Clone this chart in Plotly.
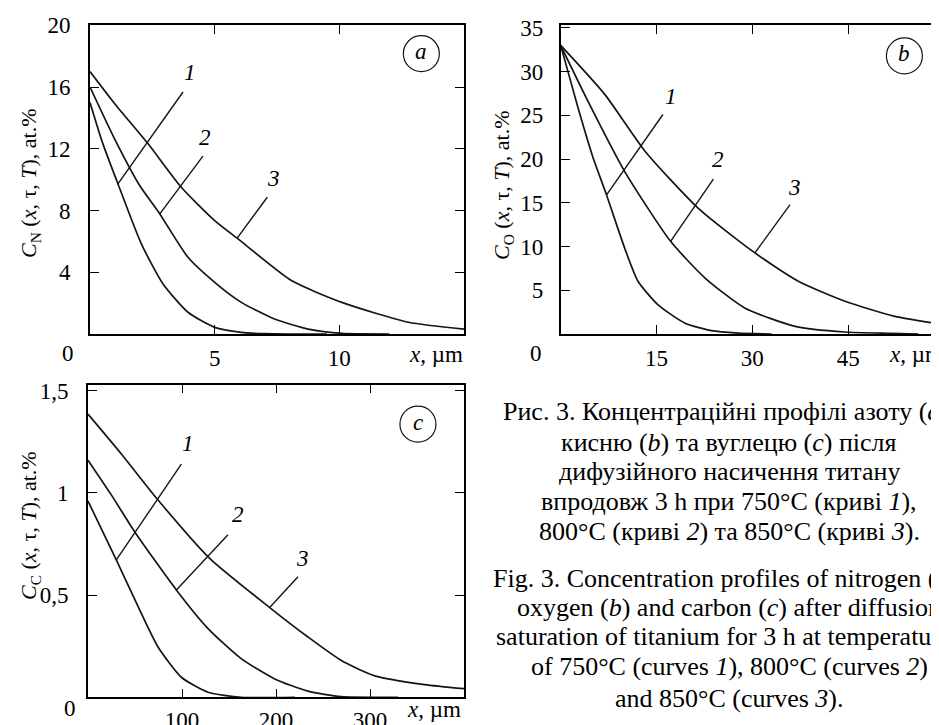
import plotly.graph_objects as go

W, H = 939, 725
SERIF = "Liberation Serif"

# ---------------- data ----------------
# (a) nitrogen, x in um, C in at.%
a_x1 = [0, 0.5, 1.12, 2.06, 2.93, 3.93, 5.0, 6.07, 7.0, 8.0, 9.5]
a_y1 = [15.0, 12.4, 9.73, 5.84, 3.24, 1.41, 0.43, 0.11, 0.02, 0.0, 0.0]
a_x2 = [0, 1.0, 2.0, 2.8, 3.93, 5.0, 6.07, 7.4, 8.75, 10.1, 12.0]
a_y2 = [16.0, 12.6, 9.6, 7.78, 4.97, 3.35, 2.05, 0.97, 0.32, 0.04, 0.0]
a_x3 = [0, 1.0, 2.33, 3.66, 5.0, 5.94, 8.08, 10.1, 12.77, 15.0]
a_y3 = [17.0, 14.9, 12.32, 9.51, 7.35, 6.16, 3.46, 2.05, 0.76, 0.32]

# (b) oxygen
b_x1 = [0, 2.7, 5.07, 7.15, 10.0, 12.1, 15.2, 19.4, 23.6, 27.8, 33.0]
b_y1 = [33.0, 25.9, 20.15, 15.95, 9.85, 6.03, 3.36, 1.26, 0.38, 0.11, 0.0]
b_x2 = [0, 4.28, 10.0, 17.2, 22.6, 28.8, 36.7, 44.5, 51.8, 56.0]
b_y2 = [33.0, 26.6, 18.6, 10.6, 6.4, 2.98, 0.88, 0.23, 0.08, 0.0]
b_x3 = [0, 6.9, 13.2, 21.5, 30.4, 37.2, 44.5, 52.3, 60.0]
b_y3 = [33.0, 27.4, 20.9, 14.4, 9.27, 6.03, 3.74, 2.02, 1.07]

# (c) carbon
c_x1 = [0, 30.1, 56.7, 74.5, 99.3, 127.7, 163.0, 220.0]
c_y1 = [0.96, 0.672, 0.41, 0.246, 0.098, 0.025, 0.0, 0.0]
c_x2 = [0, 24.8, 49.6, 94.0, 127.7, 163.0, 198.6, 234.0, 269.5, 330.0]
c_y2 = [1.16, 0.99, 0.81, 0.525, 0.336, 0.189, 0.09, 0.03, 0.003, 0.0]
c_x3 = [0, 35.5, 72.7, 129.4, 193.3, 234.0, 269.5, 305.0, 358.0, 400.0]
c_y3 = [1.385, 1.19, 0.975, 0.68, 0.439, 0.295, 0.18, 0.105, 0.062, 0.042]

# tick labels
a_xticks = [5, 10]
a_yticks = [4, 8, 12, 16, 20]
b_xticks = [15, 30, 45]
b_yticks = [5, 10, 15, 20, 25, 30, 35]
c_xticks = [100, 200, 300]
c_yticks = [0.5, 1.0, 1.5]
c_yticktext = ["0,5", "1", "1,5"]

# leader lines (x0, y0, x1, y1) and curve numbers (x, y) per panel
a_leaders = [(1.12, 9.73, 3.73, 15.68), (2.8, 7.78, 4.53, 11.52), (5.91, 6.23, 7.11, 8.86)]
a_nums = [(4.0, 16.97), (4.6, 12.76), (7.34, 10.05)]
b_leaders = [(7.15, 15.88, 16.0, 25.1), (17.2, 10.6, 23.9, 17.7), (30.4, 9.27, 35.9, 14.8)]
b_nums = [(17.2, 27.2), (24.6, 19.96), (36.6, 16.7)]
c_leaders = [(30.1, 0.672, 99.3, 1.14), (94.0, 0.525, 148.9, 0.795), (193.3, 0.439, 223.4, 0.59)]
c_nums = [(106.4, 1.24), (159.6, 0.893), (228.7, 0.68)]
circ = {"a": (13.29, 18.16), "b": (53.8, 31.8), "c": (351.0, 1.336)}

caption_ua = [
    "Рис. 3. Концентраційні профілі азоту (<i>a</i>),",
    "кисню (<i>b</i>) та вуглецю (<i>c</i>) після",
    "дифузійного насичення титану",
    "впродовж 3 h при 750°C (криві <i>1</i>),",
    "800°C (криві <i>2</i>) та 850°C (криві <i>3</i>).",
]
caption_en = [
    "Fig. 3. Concentration profiles of nitrogen (<i>a</i>),",
    "oxygen (<i>b</i>) and carbon (<i>c</i>) after diffusion",
    "saturation of titanium for 3 h at temperatures",
    "of 750°C (curves <i>1</i>), 800°C (curves <i>2</i>)",
    "and 850°C (curves <i>3</i>).",
]

# ---------------- layout geometry (pixels) ----------------
def px_x(x):
    return x / W

def px_y(y):
    return 1 - y / H

panels = {
    "a": dict(x0=82, x1=456, y0=17.3, y1=326),
    "b": dict(x0=552.7, x1=936, y0=17.3, y1=326),
    "c": dict(x0=80, x1=456, y0=376.5, y1=689.3),
}

fig = go.Figure()
LC = "#151515"
LW = 1.7

def add_curves(xs, ys, xa, ya):
    for x, y in zip(xs, ys):
        fig.add_trace(go.Scatter(x=x, y=y, mode="lines", xaxis=xa, yaxis=ya,
                                 line=dict(color=LC, width=LW, shape="spline", smoothing=0.6),
                                 showlegend=False, hoverinfo="skip"))

add_curves([a_x1, a_x2, a_x3], [a_y1, a_y2, a_y3], "x", "y")
add_curves([b_x1, b_x2, b_x3], [b_y1, b_y2, b_y3], "x2", "y2")
add_curves([c_x1, c_x2, c_x3], [c_y1, c_y2, c_y3], "x3", "y3")

def axis(dom, rng, tickvals, ticktext=None, anchor=None, standoff=3):
    d = dict(domain=dom, range=rng, tickvals=tickvals, showline=True, linecolor="black",
             linewidth=1.6, mirror="allticks", ticks="inside", ticklen=9, tickwidth=1.4,
             tickcolor="black", showgrid=False, zeroline=False, anchor=anchor,
             automargin=False, fixedrange=True,
             tickfont=dict(family=SERIF, size=23, color="black"), ticklabelstandoff=standoff)
    if ticktext is not None:
        d["ticktext"] = ticktext
    return d

pa, pb, pc = panels["a"], panels["b"], panels["c"]
layout = dict(
    width=W, height=H, margin=dict(l=0, r=0, t=0, b=0, autoexpand=False),
    paper_bgcolor="white", plot_bgcolor="white", showlegend=False,
    xaxis=axis([px_x(pa["x0"]), px_x(pa["x1"])], [0, 15], a_xticks, anchor="y"),
    yaxis=axis([px_y(pa["y1"]), px_y(pa["y0"])], [0, 20], a_yticks, anchor="x", standoff=13),
    xaxis2=axis([px_x(pb["x0"]), px_x(pb["x1"])], [0, 60], b_xticks, anchor="y2"),
    yaxis2=axis([px_y(pb["y1"]), px_y(pb["y0"])], [0, 35.3], b_yticks, anchor="x2", standoff=11),
    xaxis3=axis([px_x(pc["x0"]), px_x(pc["x1"])], [0, 400], c_xticks, anchor="y3", standoff=1),
    yaxis3=axis([px_y(pc["y1"]), px_y(pc["y0"])], [0, 1.53], c_yticks, c_yticktext,
                anchor="x3", standoff=13),
)
fig.update_layout(**layout)

shapes = []
ann = []
for (leaders, nums, xr, yr) in [(a_leaders, a_nums, "x", "y"),
                                (b_leaders, b_nums, "x2", "y2"),
                                (c_leaders, c_nums, "x3", "y3")]:
    for (x0, y0, x1, y1) in leaders:
        shapes.append(dict(type="line", xref=xr, yref=yr, x0=x0, y0=y0, x1=x1, y1=y1,
                           line=dict(color=LC, width=1.4)))
    for i, (x, y) in enumerate(nums):
        ann.append(dict(xref=xr, yref=yr, x=x, y=y, text=f"<i>{i+1}</i>", showarrow=False,
                        xanchor="center", yanchor="middle",
                        font=dict(family=SERIF, size=23, color="black")))

for key, (xr, yr) in zip(["a", "b", "c"], [("x", "y"), ("x2", "y2"), ("x3", "y3")]):
    cx, cy = circ[key]
    shapes.append(dict(type="circle", xref=xr, yref=yr, xsizemode="pixel", ysizemode="pixel",
                       xanchor=cx, yanchor=cy, x0=-18, x1=18, y0=-18, y1=18,
                       line=dict(color=LC, width=1.2)))
    ann.append(dict(xref=xr, yref=yr, x=cx, y=cy, text=f"<i>{key}</i>", showarrow=False,
                    xanchor="center", yanchor="middle",
                    font=dict(family=SERIF, size=23, color="black"), yshift=2))

# corner zeros, x-axis unit labels, y-axis titles
for (zx, zy) in [(60, 345), (528.3, 345), (61.7, 700)]:
    ann.append(dict(xref="paper", yref="paper", x=px_x(zx), y=px_y(zy), text="0",
                    xanchor="center", yanchor="middle",
                    showarrow=False, font=dict(family=SERIF, size=23, color="black")))
for (ux, uy) in [(457, 347), (937, 347), (455, 701)]:
    ann.append(dict(xref="paper", yref="paper", x=px_x(ux), y=px_y(uy), xanchor="right",
                    yanchor="middle", text="<i>x</i>, µm", showarrow=False,
                    font=dict(family=SERIF, size=23, color="black")))
titles = [("N", 22, 175), ("O", 495, 177), ("C", 22, 518)]
for sub, tx, ty in titles:
    ann.append(dict(xref="paper", yref="paper", x=px_x(tx), y=px_y(ty), textangle=-90,
                    xanchor="center", yanchor="middle",
                    text=f"<i>C</i><sub>{sub}</sub> (<i>x</i>, τ, <i>T</i>), at.%",
                    showarrow=False, font=dict(family=SERIF, size=22, color="black")))

# caption
ua_y = [403.3, 434, 463.3, 493.3, 523.3]
en_y = [570, 599.3, 628.3, 658.3, 690]
for lines, ys in [(caption_ua, ua_y), (caption_en, en_y)]:
    for t, y in zip(lines, ys):
        ann.append(dict(xref="paper", yref="paper", x=px_x(721), y=px_y(y), text=t,
                        showarrow=False, xanchor="center", yanchor="middle",
                        font=dict(family=SERIF, size=26, color="black")))

fig.update_layout(shapes=shapes, annotations=ann)
fig.write_html("out.html")
